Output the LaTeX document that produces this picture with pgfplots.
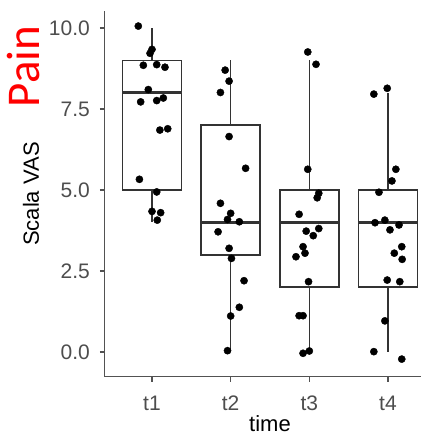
\documentclass[border=0pt]{standalone}
\usepackage{pgfplots}
\pgfplotsset{compat=1.18}
\usepgfplotslibrary{statistics}
\usepackage{fontspec}
\setmainfont{Liberation Sans}
\newfontfamily\painfont{Carlito}
\definecolor{g20}{HTML}{333333}
\definecolor{g30}{HTML}{4D4D4D}
\pgfplotstableread{
x y
0.826 10.06
1.00 9.34
0.975 9.22
0.89 8.85
1.06 8.87
1.165 8.79
0.953 8.10
0.856 7.72
1.06 7.76
1.144 7.84
1.10 6.85
1.20 6.89
0.84 5.33
1.06 4.94
1.00 4.34
1.11 4.30
1.067 4.07
1.93 8.70
1.98 8.36
1.87 8.01
1.98 6.65
2.19 5.67
1.87 4.59
2.00 4.28
1.96 4.09
2.11 4.02
1.84 3.71
1.98 3.20
2.01 2.89
2.17 2.20
2.11 1.38
2.00 1.11
1.96 0.04
2.98 9.26
3.085 8.88
2.98 5.64
3.12 4.90
3.10 4.76
2.87 4.25
2.96 3.73
3.05 3.59
3.12 3.81
2.92 3.25
2.945 3.05
2.83 2.94
2.99 2.17
2.87 1.12
2.92 1.12
2.92 -0.04
3.00 0.03
3.82 7.96
3.99 8.14
4.10 5.64
4.05 5.28
3.885 4.93
3.835 3.99
3.96 4.07
4.025 3.77
4.14 3.92
4.175 3.25
4.08 3.05
4.18 2.86
3.99 2.22
4.15 2.17
3.96 0.96
3.82 0.01
4.175 -0.22
}\points
\begin{document}
\begin{tikzpicture}
\useasboundingbox (-104.8bp,-58.4bp) rectangle (316.2bp,376.6bp);
\begin{axis}[
  scale only axis, width=330.4bp, height=365.1bp,
  xmin=0.4, xmax=4.6, ymin=-0.76, ymax=10.51,
  axis lines*=left,
  axis line style={g20!85, line width=1.4bp},
  boxplot/draw direction=y,
  boxplot/every box/.style={line width=1.5bp},
  boxplot/every whisker/.style={line width=1.5bp},
  boxplot/every median/.style={line width=3bp},
  xtick={1,2,3,4}, xticklabels={t1,t2,t3,t4},
  ytick={0,2.5,5,7.5,10},
  /pgf/number format/fixed, /pgf/number format/fixed zerofill, /pgf/number format/precision=1,
  /pgf/number format/assume math mode=true,
  tick style={g20!85, line width=1.4bp},
  major tick length=5bp,
  tick align=outside,
  ticklabel style={font=\fontsize{21bp}{25bp}\selectfont, text=g30},
  xticklabel style={anchor=base, yshift=-29bp},
  yticklabel style={anchor=east, inner sep=0pt, xshift=-9.8bp},
  xlabel={time}, ylabel={Scala VAS},
  label style={font=\fontsize{22bp}{26bp}\selectfont, text=black},
  ylabel style={at={(axis description cs:-0.223,0.5)}, anchor=center},
  xlabel style={at={(axis description cs:0.5,0)}, anchor=base, yshift=-55bp},
  clip=false,
]
\addplot[boxplot prepared={draw position=1, lower whisker=4, lower quartile=5, median=8, upper quartile=9, upper whisker=10, box extend=0.75, whisker extend=0}, draw=g20, fill=white, mark=none] coordinates {};
\addplot[boxplot prepared={draw position=2, lower whisker=0, lower quartile=3, median=4, upper quartile=7, upper whisker=9, box extend=0.75, whisker extend=0}, draw=g20, fill=white, mark=none] coordinates {};
\addplot[boxplot prepared={draw position=3, lower whisker=0, lower quartile=2, median=4, upper quartile=5, upper whisker=9, box extend=0.75, whisker extend=0}, draw=g20, fill=white, mark=none] coordinates {};
\addplot[boxplot prepared={draw position=4, lower whisker=0, lower quartile=2, median=4, upper quartile=5, upper whisker=8, box extend=0.75, whisker extend=0}, draw=g20, fill=white, mark=none] coordinates {};
\addplot[only marks, mark=*, mark size=3.6bp, black] table[x=x, y=y] {\points};
\node[rotate=90, text=red, font=\painfont\fontsize{47bp}{50bp}\selectfont, anchor=center] at (axis description cs:-0.2446,0.849) {Pain};
\end{axis}
\end{tikzpicture}
\end{document}
